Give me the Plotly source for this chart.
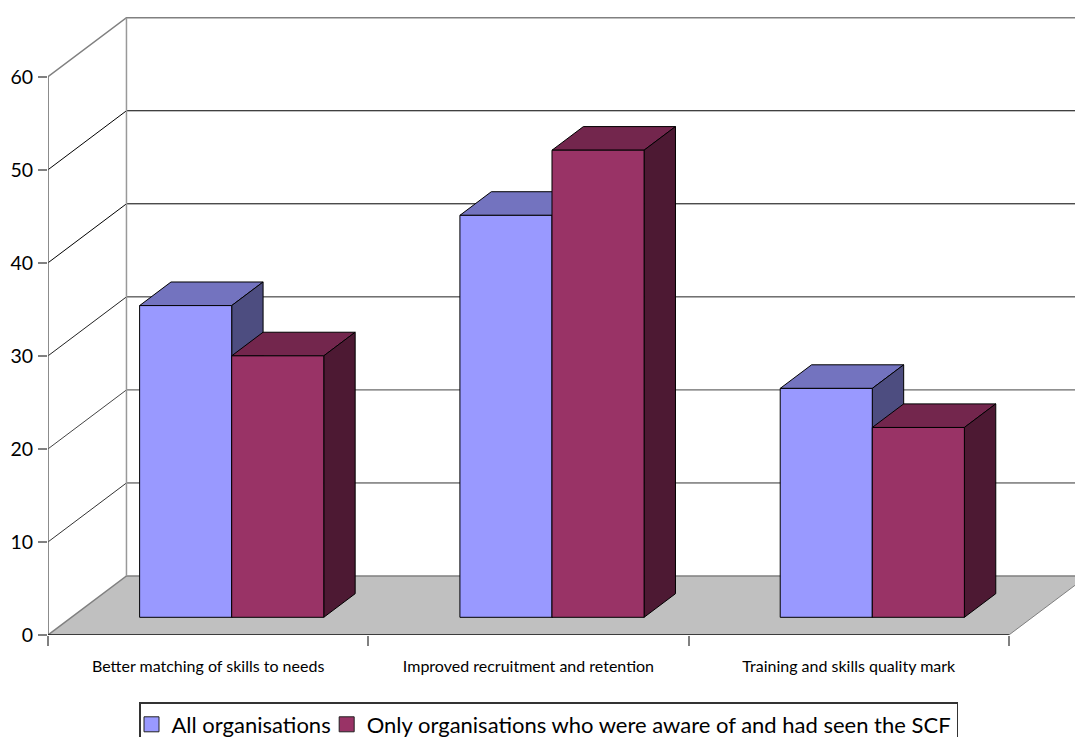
import plotly.graph_objects as go

# Survey results: share of organisations reporting each benefit (%)
categories = ["Better matching of skills to needs",
              "Improved recruitment and retention",
              "Training and skills quality mark"]
series_names = ["All organisations",
                "Only organisations who were aware of and had seen the SCF"]
all_orgs = [33.5, 43.2, 24.6]
aware_orgs = [28.1, 50.2, 20.4]
y_ticks = [0, 10, 20, 30, 40, 50, 60]

# Oblique projection of the box: a full step in depth shifts a point by this much
DEPTH_X = 0.245
DEPTH_Y = 6.34
BAR_WIDTH = 0.2875
BAR_DEPTH = (0.3, 0.7)

FRONT = ["#9999FF", "#993366"]
TOP = ["#7373BF", "#73264D"]
SIDE = ["#4D4D80", "#4D1933"]
GREY = "#808080"
DARK = "#000000"
GRID_COLOR = {0: GREY, 10: "#333333", 20: "#444444", 30: "#222222", 40: DARK, 50: DARK, 60: GREY}


def proj(x, y, depth):
    return x + depth * DEPTH_X, y + depth * DEPTH_Y


def poly(points, fill=None, line=DARK, width=1):
    xs, ys = zip(*[proj(*p) for p in points])
    fig.add_trace(go.Scatter(
        x=list(xs), y=list(ys), mode="lines",
        fill="toself" if fill else None, fillcolor=fill,
        line=dict(color=line, width=width),
        showlegend=False, hoverinfo="skip", cliponaxis=False,
    ))


fig = go.Figure()
n = len(categories)
x_end = float(n)

# Floor
poly([(0, 0, 0), (x_end, 0, 0), (x_end, 0, 1), (0, 0, 1), (0, 0, 0)], fill="#C0C0C0", line="rgba(0,0,0,0)")
poly([(x_end, 0, 0), (x_end, 0, 1)], line=GREY)

# Wall grid lines running along the side wall and the back wall
for t in y_ticks:
    poly([(0, t, 0), (0, t, 1), (x_end, t, 1)], line=GRID_COLOR[t], width=1.5 if t in (0, 60) else 1)
# Back corner and the axis lines
poly([(0, 0, 1), (0, max(y_ticks), 1)], line="#999999", width=1.5)
poly([(0, 0, 0), (0, max(y_ticks), 0)], line="#666666", width=1.5)
poly([(0, 0, 0), (x_end, 0, 0)], line="#111111", width=1.5)

# Bars, first series then second so that the taller faces overlap correctly
d0, d1 = BAR_DEPTH
for s, values in enumerate([all_orgs, aware_orgs]):
    for i, v in enumerate(values):
        left = i + 0.5 - BAR_WIDTH + s * BAR_WIDTH
        right = left + BAR_WIDTH
        poly([(left, v, d0), (right, v, d0), (right, v, d1), (left, v, d1), (left, v, d0)], fill=TOP[s])
        poly([(right, 0, d0), (right, 0, d1), (right, v, d1), (right, v, d0), (right, 0, d0)], fill=SIDE[s])
        poly([(left, 0, d0), (right, 0, d0), (right, v, d0), (left, v, d0), (left, 0, d0)], fill=FRONT[s])

# Legend entries
for s, name in enumerate(series_names):
    fig.add_trace(go.Scatter(
        x=[None], y=[None], mode="markers", name=name,
        marker=dict(symbol="square", size=15, color=FRONT[s], line=dict(color="#222222", width=1)),
    ))

fig.update_layout(
    width=1075, height=737,
    margin=dict(l=48, r=0, t=17, b=102, autoexpand=False),
    paper_bgcolor="white", plot_bgcolor="rgba(0,0,0,0)",
    hovermode=False,
    font=dict(family="Lato, sans-serif", color="black"),
    xaxis=dict(
        range=[0, 1027 / 320.3], showgrid=False, zeroline=False, showline=False,
        tickmode="array", tickvals=[i + 0.5 for i in range(n)], ticktext=categories, ticks="",
        tickfont=dict(size=16), ticklabelstandoff=20,
        minor=dict(tickmode="array", tickvals=list(range(n + 1)), ticks="outside", ticklen=10,
                   tickcolor=GREY, tickwidth=1.5, showgrid=False),
    ),
    yaxis=dict(
        range=[0, 618 / 9.305], showgrid=False, zeroline=False, showline=False,
        tickmode="array", tickvals=y_ticks, ticks="outside", ticklen=9, tickcolor=GREY, tickwidth=1.5,
        tickfont=dict(size=19.5), ticklabelstandoff=1,
    ),
    legend=dict(
        orientation="h", x=(139 - 48) / 1027, y=(635 - 702) / 618, xanchor="left", yanchor="top",
        bgcolor="white", bordercolor="#333333", borderwidth=1.5, indentation=-9,
        font=dict(size=22), itemclick=False, itemdoubleclick=False,
    ),
)

fig.write_html("out.html")
